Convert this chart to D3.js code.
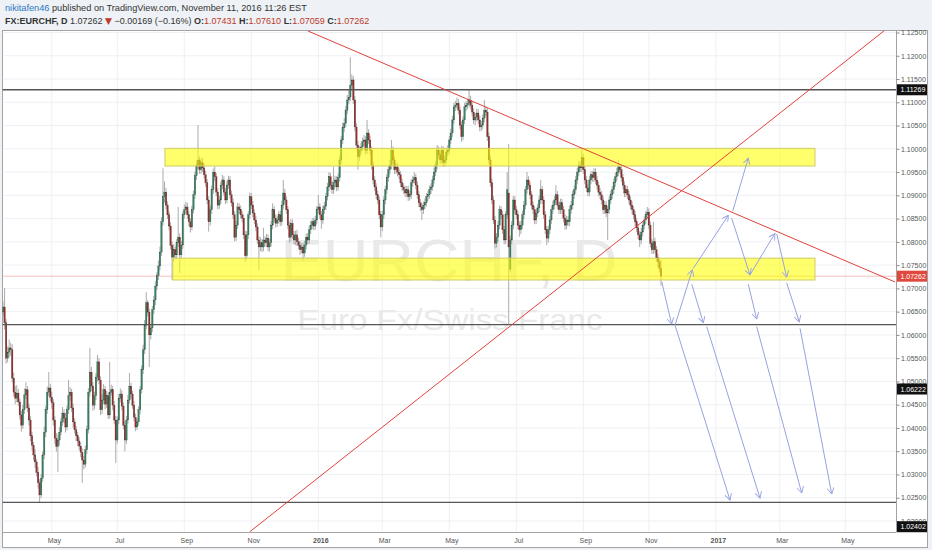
<!DOCTYPE html>
<html>
<head>
<meta charset="utf-8">
<script src="https://d3js.org/d3.v7.min.js"></script>
<style>
  body { margin: 0; background: #eef1f5; }
  svg { display: block; font-family: "Liberation Sans", Arial, sans-serif; }
</style>
</head>
<body>
<svg id="chart" width="932" height="550"></svg>
<script>
// ---- data: EURCHF daily bars, first bar 2015-03-17, last bar 2016-11-11 ----
const firstBar = "2015-03-17";

const opens = [
  1.0655,1.0649,1.0660,1.0626,1.0550,1.0563,1.0572,1.0568,1.0507,1.0477,
  1.0464,1.0475,1.0456,1.0428,1.0406,1.0439,1.0471,1.0482,1.0443,1.0417,
  1.0383,1.0363,1.0342,1.0327,1.0305,1.0282,1.0256,1.0292,1.0342,1.0391,
  1.0439,1.0477,1.0486,1.0466,1.0454,1.0417,1.0378,1.0360,1.0374,1.0391,
  1.0413,1.0432,1.0421,1.0402,1.0439,1.0469,1.0477,1.0443,1.0413,1.0396,
  1.0383,1.0372,1.0361,1.0348,1.0331,1.0322,1.0353,1.0396,1.0477,1.0520,
  1.0490,1.0449,1.0469,1.0509,1.0542,1.0503,1.0439,1.0460,1.0482,1.0451,
  1.0469,1.0428,1.0477,1.0482,1.0449,1.0417,1.0374,1.0417,1.0464,1.0473,
  1.0447,1.0406,1.0374,1.0417,1.0460,1.0490,1.0473,1.0449,1.0423,1.0402,
  1.0413,1.0439,1.0482,1.0525,1.0568,1.0621,1.0669,1.0649,1.0600,1.0615,
  1.0654,1.0675,1.0705,1.0727,1.0748,1.0778,1.0843,1.0897,1.0907,1.0879,
  1.0858,1.0834,1.0793,1.0767,1.0783,1.0772,1.0798,1.0810,1.0772,1.0793,
  1.0858,1.0869,1.0875,1.0858,1.0843,1.0832,1.0869,1.0901,1.0942,1.0965,
  1.0976,1.0955,1.0970,1.0959,1.0944,1.0927,1.0890,1.0843,1.0869,1.0912,
  1.0950,1.0940,1.0907,1.0879,1.0890,1.0922,1.0933,1.0907,1.0890,1.0922,
  1.0933,1.0901,1.0884,1.0858,1.0810,1.0836,1.0875,1.0869,1.0858,1.0851,
  1.0815,1.0770,1.0815,1.0858,1.0897,1.0879,1.0862,1.0847,1.0832,1.0804,
  1.0789,1.0798,1.0789,1.0804,1.0798,1.0808,1.0789,1.0798,1.0836,1.0869,
  1.0851,1.0840,1.0847,1.0858,1.0843,1.0879,1.0905,1.0890,1.0869,1.0836,
  1.0810,1.0840,1.0815,1.0804,1.0815,1.0800,1.0793,1.0783,1.0789,1.0776,
  1.0793,1.0810,1.0804,1.0826,1.0836,1.0843,1.0834,1.0847,1.0869,1.0875,
  1.0858,1.0847,1.0869,1.0877,1.0897,1.0918,1.0940,1.0922,1.0912,1.0927,
  1.0933,1.0918,1.0938,1.0976,1.1019,1.1045,1.1055,1.1083,1.1105,1.1111,
  1.1137,1.1148,1.1105,1.1047,1.1008,1.0983,1.0997,1.1004,1.1015,1.1019,
  1.0997,1.1034,1.1019,1.0997,1.0965,1.0933,1.0918,1.0901,1.0890,1.0858,
  1.0832,1.0858,1.0890,1.0912,1.0938,1.0955,1.0965,1.0997,1.0976,1.0955,
  1.0961,1.0950,1.0944,1.0927,1.0918,1.0912,1.0905,1.0912,1.0897,1.0901,
  1.0927,1.0933,1.0938,1.0922,1.0901,1.0884,1.0875,1.0869,1.0879,1.0884,
  1.0897,1.0901,1.0912,1.0918,1.0933,1.0950,1.0965,1.0997,1.0987,1.0976,
  1.0997,1.0970,1.0976,1.0993,1.0997,1.1019,1.1034,1.1062,1.1090,1.1094,
  1.1098,1.1083,1.1051,1.1026,1.1062,1.1090,1.1094,1.1098,1.1105,1.1094,
  1.1079,1.1062,1.1068,1.1077,1.1062,1.1047,1.1051,1.1066,1.1083,1.1079,
  1.1026,1.0976,1.0927,1.0890,1.0847,1.0797,1.0810,1.0836,1.0869,1.0858,
  1.0826,1.0804,1.0858,1.0905,1.0741,1.0804,1.0836,1.0890,1.0869,1.0858,
  1.0836,1.0826,1.0836,1.0858,1.0879,1.0912,1.0933,1.0922,1.0901,1.0879,
  1.0869,1.0847,1.0862,1.0873,1.0890,1.0912,1.0890,1.0858,1.0826,1.0808,
  1.0826,1.0847,1.0869,1.0879,1.0890,1.0901,1.0879,1.0869,1.0884,1.0869,
  1.0851,1.0836,1.0847,1.0843,1.0869,1.0879,1.0901,1.0912,1.0933,1.0950,
  1.0965,1.0959,1.0981,1.0955,1.0933,1.0916,1.0907,1.0933,1.0944,1.0938,
  1.0950,1.0933,1.0922,1.0907,1.0901,1.0890,1.0869,1.0879,1.0862,1.0869,
  1.0890,1.0901,1.0912,1.0927,1.0940,1.0950,1.0961,1.0955,1.0938,1.0922,
  1.0905,1.0912,1.0901,1.0890,1.0879,1.0869,1.0858,1.0843,1.0830,1.0815,
  1.0804,1.0821,1.0836,1.0847,1.0858,1.0864,1.0836,1.0797,1.0783,1.0800,
  1.0783,1.0766,1.0757,1.07431
];

const highs = [
  1.0668,1.0672,1.0701,1.0634,1.0575,1.0590,1.0583,1.0580,1.0519,1.0490,
  1.0492,1.0484,1.0463,1.0437,1.0450,1.0485,1.0498,1.0490,1.0452,1.0425,
  1.0392,1.0370,1.0355,1.0333,1.0316,1.0290,1.0301,1.0350,1.0403,1.0448,
  1.0489,1.0520,1.0495,1.0478,1.0462,1.0425,1.0389,1.0386,1.0402,1.0422,
  1.0445,1.0440,1.0433,1.0448,1.0503,1.0488,1.0484,1.0452,1.0421,1.0404,
  1.0391,1.0380,1.0370,1.0356,1.0340,1.0362,1.0405,1.0486,1.0572,1.0531,
  1.0498,1.0478,1.0518,1.0557,1.0550,1.0511,1.0472,1.0494,1.0490,1.0480,
  1.0476,1.0542,1.0493,1.0490,1.0458,1.0426,1.0425,1.0473,1.0485,1.0481,
  1.0455,1.0414,1.0426,1.0471,1.0518,1.0497,1.0480,1.0458,1.0431,1.0420,
  1.0447,1.0490,1.0535,1.0579,1.0632,1.0692,1.0675,1.0657,1.0624,1.0662,
  1.0684,1.0716,1.0735,1.0760,1.0790,1.0853,1.0958,1.0930,1.0916,1.0887,
  1.0866,1.0842,1.0801,1.0795,1.0790,1.0806,1.0875,1.0818,1.0802,1.0866,
  1.0880,1.0886,1.0884,1.0866,1.0851,1.0878,1.0910,1.0951,1.0974,1.1051,
  1.0984,1.0979,1.0981,1.0968,1.0953,1.0935,1.0898,1.0878,1.0921,1.0958,
  1.0962,1.0948,1.0915,1.0899,1.0930,1.0944,1.0941,1.0916,1.0931,1.0942,
  1.0941,1.0910,1.0893,1.0866,1.0845,1.0884,1.0883,1.0878,1.0866,1.0859,
  1.0824,1.0823,1.0866,1.0906,1.0905,1.0888,1.0870,1.0855,1.0840,1.0812,
  1.0810,1.0806,1.0830,1.0812,1.0817,1.0816,1.0807,1.0845,1.0883,1.0877,
  1.0859,1.0855,1.0866,1.0867,1.0888,1.0933,1.0914,1.0898,1.0877,1.0844,
  1.0849,1.0848,1.0823,1.0824,1.0826,1.0809,1.0801,1.0797,1.0798,1.0802,
  1.0818,1.0819,1.0835,1.0845,1.0851,1.0852,1.0856,1.0877,1.0901,1.0883,
  1.0866,1.0878,1.0886,1.0905,1.0927,1.0950,1.0948,1.0931,1.0961,1.0942,
  1.0941,1.0947,1.0985,1.1028,1.1056,1.1066,1.1092,1.1116,1.1125,1.1197,
  1.1160,1.1156,1.1113,1.1055,1.1017,1.1006,1.1013,1.1024,1.1030,1.1027,
  1.1062,1.1042,1.1028,1.1005,1.0973,1.0941,1.0926,1.0910,1.0898,1.0866,
  1.0867,1.0898,1.0921,1.0946,1.0964,1.0976,1.1019,1.1005,1.0984,1.0970,
  1.0969,1.0958,1.0952,1.0936,1.0926,1.0921,1.0920,1.0921,1.0910,1.0935,
  1.0942,1.0950,1.0946,1.0930,1.0909,1.0892,1.0883,1.0887,1.0893,1.0905,
  1.0910,1.0921,1.0926,1.0942,1.0959,1.0974,1.1008,1.1005,1.0995,1.1006,
  1.1005,1.0985,1.1002,1.1008,1.1028,1.1043,1.1071,1.1099,1.1103,1.1110,
  1.1107,1.1091,1.1059,1.1070,1.1099,1.1103,1.1108,1.1127,1.1114,1.1102,
  1.1087,1.1076,1.1086,1.1085,1.1071,1.1060,1.1074,1.1105,1.1092,1.1088,
  1.1035,1.0985,1.0936,1.0899,1.0856,1.0819,1.0845,1.0878,1.0877,1.0867,
  1.0834,1.0866,1.0950,1.1010,1.0813,1.0845,1.0899,1.0898,1.0877,1.0866,
  1.0844,1.0845,1.0867,1.0888,1.0920,1.0950,1.0941,1.0930,1.0909,1.0887,
  1.0877,1.0870,1.0881,1.0899,1.0933,1.0920,1.0898,1.0866,1.0834,1.0835,
  1.0856,1.0878,1.0888,1.0899,1.0922,1.0909,1.0887,1.0893,1.0892,1.0877,
  1.0859,1.0856,1.0855,1.0878,1.0888,1.0910,1.0921,1.0942,1.0959,1.0974,
  1.0973,1.1002,1.0989,1.0963,1.0941,1.0924,1.0942,1.0953,1.0952,1.0958,
  1.0958,1.0941,1.0930,1.0916,1.0909,1.0898,1.0888,1.0887,1.0878,1.0898,
  1.0910,1.0920,1.0936,1.0949,1.0959,1.0976,1.0964,1.0963,1.0946,1.0930,
  1.0921,1.0920,1.0909,1.0898,1.0887,1.0877,1.0866,1.0851,1.0838,1.0823,
  1.0830,1.0845,1.0855,1.0866,1.0875,1.0872,1.0844,1.0806,1.0843,1.0809,
  1.0791,1.0774,1.0765,1.07610
];

const lows = [
  1.0638,1.0640,1.0612,1.0538,1.0541,1.0552,1.0555,1.0498,1.0468,1.0451,
  1.0455,1.0447,1.0418,1.0392,1.0398,1.0430,1.0462,1.0434,1.0405,1.0371,
  1.0352,1.0330,1.0314,1.0296,1.0270,1.0240,1.0249,1.0284,1.0333,1.0380,
  1.0430,1.0468,1.0457,1.0441,1.0405,1.0366,1.0349,1.0305,1.0362,1.0384,
  1.0404,1.0410,1.0390,1.0395,1.0430,1.0458,1.0434,1.0401,1.0388,1.0372,
  1.0361,1.0352,1.0337,1.0282,1.0311,1.0315,1.0344,1.0388,1.0468,1.0479,
  1.0437,1.0440,1.0460,1.0500,1.0494,1.0428,1.0430,1.0451,1.0440,1.0443,
  1.0419,1.0420,1.0470,1.0438,1.0408,1.0325,1.0366,1.0408,1.0455,1.0438,
  1.0397,1.0350,1.0366,1.0409,1.0452,1.0464,1.0441,1.0414,1.0393,1.0396,
  1.0405,1.0430,1.0474,1.0516,1.0559,1.0612,1.0640,1.0531,1.0590,1.0606,
  1.0645,1.0664,1.0696,1.0718,1.0739,1.0770,1.0835,1.0884,1.0870,1.0849,
  1.0825,1.0784,1.0718,1.0758,1.0763,1.0763,1.0789,1.0733,1.0764,1.0785,
  1.0850,1.0860,1.0849,1.0834,1.0820,1.0825,1.0861,1.0892,1.0933,1.0957,
  1.0946,1.0946,1.0950,1.0936,1.0918,1.0881,1.0822,1.0835,1.0860,1.0903,
  1.0931,1.0898,1.0870,1.0871,1.0882,1.0913,1.0899,1.0881,1.0883,1.0914,
  1.0893,1.0876,1.0849,1.0801,1.0802,1.0828,1.0860,1.0850,1.0842,1.0806,
  1.0757,1.0762,1.0806,1.0849,1.0870,1.0853,1.0838,1.0823,1.0795,1.0740,
  1.0780,1.0778,1.0780,1.0790,1.0789,1.0780,1.0779,1.0790,1.0827,1.0842,
  1.0831,1.0832,1.0839,1.0834,1.0835,1.0870,1.0881,1.0860,1.0827,1.0798,
  1.0801,1.0806,1.0795,1.0793,1.0791,1.0784,1.0772,1.0775,1.0761,1.0768,
  1.0784,1.0795,1.0796,1.0817,1.0827,1.0825,1.0826,1.0838,1.0860,1.0849,
  1.0828,1.0838,1.0860,1.0868,1.0889,1.0909,1.0913,1.0903,1.0903,1.0918,
  1.0909,1.0910,1.0929,1.0967,1.1010,1.1036,1.1046,1.1074,1.1096,1.1102,
  1.1128,1.1096,1.1038,1.0999,1.0955,1.0974,1.0988,1.0995,1.1006,1.0988,
  1.0989,1.1010,1.0988,1.0956,1.0924,1.0909,1.0892,1.0881,1.0849,1.0810,
  1.0823,1.0849,1.0881,1.0903,1.0929,1.0946,1.0956,1.0967,1.0946,1.0946,
  1.0941,1.0935,1.0918,1.0909,1.0903,1.0896,1.0896,1.0888,1.0889,1.0892,
  1.0918,1.0925,1.0913,1.0892,1.0875,1.0866,1.0847,1.0860,1.0871,1.0876,
  1.0888,1.0893,1.0903,1.0910,1.0925,1.0941,1.0956,1.0978,1.0967,1.0968,
  1.0961,1.0962,1.0967,1.0984,1.0988,1.1010,1.1025,1.1053,1.1081,1.1085,
  1.1074,1.1042,1.1015,1.1018,1.1053,1.1081,1.1085,1.1089,1.1085,1.1070,
  1.1053,1.1051,1.1059,1.1053,1.1038,1.1038,1.1042,1.1057,1.1070,1.1017,
  1.0967,1.0918,1.0881,1.0838,1.0786,1.0788,1.0801,1.0827,1.0849,1.0817,
  1.0795,1.0795,1.0849,1.0622,1.0735,1.0795,1.0827,1.0860,1.0849,1.0827,
  1.0811,1.0817,1.0827,1.0849,1.0870,1.0903,1.0913,1.0892,1.0870,1.0860,
  1.0838,1.0838,1.0853,1.0864,1.0881,1.0881,1.0849,1.0817,1.0793,1.0799,
  1.0817,1.0838,1.0860,1.0870,1.0881,1.0870,1.0860,1.0860,1.0860,1.0842,
  1.0826,1.0827,1.0834,1.0834,1.0860,1.0870,1.0892,1.0903,1.0924,1.0941,
  1.0950,1.0950,1.0946,1.0924,1.0907,1.0898,1.0898,1.0924,1.0929,1.0929,
  1.0924,1.0913,1.0898,1.0892,1.0881,1.0860,1.0860,1.0853,1.0804,1.0860,
  1.0881,1.0892,1.0903,1.0918,1.0931,1.0941,1.0946,1.0929,1.0913,1.0896,
  1.0896,1.0892,1.0881,1.0870,1.0860,1.0849,1.0834,1.0821,1.0806,1.0789,
  1.0795,1.0812,1.0827,1.0838,1.0849,1.0827,1.0788,1.0774,1.0774,1.0775,
  1.0757,1.0745,1.0734,1.07059
];

const closes = [
  1.0649,1.0660,1.0626,1.0550,1.0563,1.0572,1.0568,1.0507,1.0477,1.0464,
  1.0475,1.0456,1.0428,1.0406,1.0439,1.0471,1.0482,1.0443,1.0417,1.0383,
  1.0363,1.0342,1.0327,1.0305,1.0282,1.0256,1.0292,1.0342,1.0391,1.0439,
  1.0477,1.0486,1.0466,1.0454,1.0417,1.0378,1.0360,1.0374,1.0391,1.0413,
  1.0432,1.0421,1.0402,1.0439,1.0469,1.0477,1.0443,1.0413,1.0396,1.0383,
  1.0372,1.0361,1.0348,1.0331,1.0322,1.0353,1.0396,1.0477,1.0520,1.0490,
  1.0449,1.0469,1.0509,1.0542,1.0503,1.0439,1.0460,1.0482,1.0451,1.0469,
  1.0428,1.0477,1.0482,1.0449,1.0417,1.0374,1.0417,1.0464,1.0473,1.0447,
  1.0406,1.0374,1.0417,1.0460,1.0490,1.0473,1.0449,1.0423,1.0402,1.0413,
  1.0439,1.0482,1.0525,1.0568,1.0621,1.0669,1.0649,1.0600,1.0615,1.0654,
  1.0675,1.0705,1.0727,1.0748,1.0778,1.0843,1.0897,1.0907,1.0879,1.0858,
  1.0834,1.0793,1.0767,1.0783,1.0772,1.0798,1.0810,1.0772,1.0793,1.0858,
  1.0869,1.0875,1.0858,1.0843,1.0832,1.0869,1.0901,1.0942,1.0965,1.0976,
  1.0955,1.0970,1.0959,1.0944,1.0927,1.0890,1.0843,1.0869,1.0912,1.0950,
  1.0940,1.0907,1.0879,1.0890,1.0922,1.0933,1.0907,1.0890,1.0922,1.0933,
  1.0901,1.0884,1.0858,1.0810,1.0836,1.0875,1.0869,1.0858,1.0851,1.0815,
  1.0770,1.0815,1.0858,1.0897,1.0879,1.0862,1.0847,1.0832,1.0804,1.0789,
  1.0798,1.0789,1.0804,1.0798,1.0808,1.0789,1.0798,1.0836,1.0869,1.0851,
  1.0840,1.0847,1.0858,1.0843,1.0879,1.0905,1.0890,1.0869,1.0836,1.0810,
  1.0840,1.0815,1.0804,1.0815,1.0800,1.0793,1.0783,1.0789,1.0776,1.0793,
  1.0810,1.0804,1.0826,1.0836,1.0843,1.0834,1.0847,1.0869,1.0875,1.0858,
  1.0847,1.0869,1.0877,1.0897,1.0918,1.0940,1.0922,1.0912,1.0927,1.0933,
  1.0918,1.0938,1.0976,1.1019,1.1045,1.1055,1.1083,1.1105,1.1111,1.1137,
  1.1148,1.1105,1.1047,1.1008,1.0983,1.0997,1.1004,1.1015,1.1019,1.0997,
  1.1034,1.1019,1.0997,1.0965,1.0933,1.0918,1.0901,1.0890,1.0858,1.0832,
  1.0858,1.0890,1.0912,1.0938,1.0955,1.0965,1.0997,1.0976,1.0955,1.0961,
  1.0950,1.0944,1.0927,1.0918,1.0912,1.0905,1.0912,1.0897,1.0901,1.0927,
  1.0933,1.0938,1.0922,1.0901,1.0884,1.0875,1.0869,1.0879,1.0884,1.0897,
  1.0901,1.0912,1.0918,1.0933,1.0950,1.0965,1.0997,1.0987,1.0976,1.0997,
  1.0970,1.0976,1.0993,1.0997,1.1019,1.1034,1.1062,1.1090,1.1094,1.1098,
  1.1083,1.1051,1.1026,1.1062,1.1090,1.1094,1.1098,1.1105,1.1094,1.1079,
  1.1062,1.1068,1.1077,1.1062,1.1047,1.1051,1.1066,1.1083,1.1079,1.1026,
  1.0976,1.0927,1.0890,1.0847,1.0797,1.0810,1.0836,1.0869,1.0858,1.0826,
  1.0804,1.0858,1.0912,1.0789,1.0804,1.0836,1.0890,1.0869,1.0858,1.0836,
  1.0826,1.0836,1.0858,1.0879,1.0912,1.0933,1.0922,1.0901,1.0879,1.0869,
  1.0847,1.0862,1.0873,1.0890,1.0912,1.0890,1.0858,1.0826,1.0808,1.0826,
  1.0847,1.0869,1.0879,1.0890,1.0901,1.0879,1.0869,1.0884,1.0869,1.0851,
  1.0836,1.0847,1.0843,1.0869,1.0879,1.0901,1.0912,1.0933,1.0950,1.0965,
  1.0959,1.0981,1.0955,1.0933,1.0916,1.0907,1.0933,1.0944,1.0938,1.0950,
  1.0933,1.0922,1.0907,1.0901,1.0890,1.0869,1.0879,1.0862,1.0869,1.0890,
  1.0901,1.0912,1.0927,1.0940,1.0950,1.0961,1.0955,1.0938,1.0922,1.0905,
  1.0912,1.0901,1.0890,1.0879,1.0869,1.0858,1.0843,1.0830,1.0815,1.0804,
  1.0821,1.0836,1.0847,1.0858,1.0864,1.0836,1.0797,1.0783,1.0800,1.0783,
  1.0766,1.0757,1.0743,1.07262
];

// axis ticks
const priceTicks = [1.020,1.025,1.030,1.035,1.040,1.045,1.050,1.055,1.060,1.065,1.070,
                    1.075,1.080,1.085,1.090,1.095,1.100,1.105,1.110,1.115,1.120,1.125];
const monthDates = ["2015-05-01","2015-07-01","2015-09-01","2015-11-01","2016-01-01","2016-03-01",
                    "2016-05-01","2016-07-01","2016-09-01","2016-11-01","2017-01-01","2017-03-01","2017-05-01"];
const monthLabels = ["May","Jul","Sep","Nov","2016","Mar","May","Jul","Sep","Nov","2017","Mar","May"];

// drawings: horizontal levels, zones [bar1, bar2, top, bottom], trend lines and arrows [bar1, p1, bar2, p2]
const levels = [1.11269, 1.06222, 1.02402];
const zones = [[107.3, 534.1, 1.1001, 1.0963], [112.4, 534.1, 1.0765, 1.0718]];
const trendLines = [[201.2, 1.12532, 586.6, 1.07138], [163.1, 1.01771, 579.6, 1.12539]];
const arrows = [
  [433.5, 1.0714, 440.0, 1.0623], [442.2, 1.0621, 453.6, 1.0740], [454.2, 1.0743, 477.2, 1.0857],
  [480.1, 1.0866, 490.3, 1.0980], [453.2, 1.0709, 460.8, 1.0626], [479.4, 1.0851, 491.4, 1.0729],
  [491.4, 1.0729, 507.8, 1.0818], [509.0, 1.0817, 515.5, 1.0724], [490.3, 1.0709, 495.8, 1.0634],
  [515.5, 1.0712, 523.8, 1.0628], [442.2, 1.0621, 478.3, 1.0245], [463.0, 1.0618, 498.0, 1.0249],
  [495.8, 1.0618, 525.4, 1.0260], [524.3, 1.0614, 545.1, 1.0258]
];
// price tags on the right scale: [text, price where the tag sits, colour]
const tags = [["1.11269", 1.11269, "#111"], ["1.07262", 1.07262, "#e0483e"],
              ["1.06222", 1.04837, "#111"], ["1.02402", 1.01877, "#111"]];

const svg = d3.select("#chart");
const plotL = 2.5, plotR = 896, plotT = 30.5, plotB = 532;

const x = d3.scaleLinear().domain([0, 433]).range([1.54, 661]);
const y = d3.scaleLinear().domain([1.02, 1.125]).range([521, 32.5]);

// weekday count from the first bar -> bar index of a calendar date
function barOf(s) {
  const d1 = new Date(s + "T00:00:00Z");
  let n = 0;
  for (let d = new Date(firstBar + "T00:00:00Z"); d < d1; d.setUTCDate(d.getUTCDate() + 1)) {
    const wd = d.getUTCDay();
    if (wd !== 0 && wd !== 6) n++;
  }
  return n;
}
const monthBars = monthDates.map(barOf);

// frame
svg.append("rect").attr("x", 2.5).attr("y", 30.5).attr("width", 925).attr("height", 517)
  .attr("fill", "#fff").attr("stroke", "#a3a3a3");

svg.append("clipPath").attr("id", "clip").append("rect")
  .attr("x", plotL).attr("y", plotT).attr("width", plotR - plotL).attr("height", plotB - plotT);

const g = svg.append("g").attr("clip-path", "url(#clip)");

// grid
g.selectAll(".hg").data(priceTicks).enter().append("line")
  .attr("x1", plotL).attr("x2", plotR).attr("y1", d => y(d)).attr("y2", d => y(d))
  .attr("stroke", "#eef0f4").attr("stroke-width", 1);
g.selectAll(".vg").data(monthBars).enter().append("line")
  .attr("x1", d => x(d)).attr("x2", d => x(d)).attr("y1", plotT).attr("y2", plotB)
  .attr("stroke", "#eef0f4").attr("stroke-width", 1);

// watermark
g.append("text").attr("x", 449).attr("y", 281).attr("text-anchor", "middle")
  .attr("font-size", 60).attr("fill", "#e9e9e9").attr("textLength", 337)
  .attr("lengthAdjust", "spacingAndGlyphs").text("EURCHF, D");
g.append("text").attr("x", 450).attr("y", 330).attr("text-anchor", "middle")
  .attr("font-size", 30).attr("fill", "#e9e9e9").attr("textLength", 305)
  .attr("lengthAdjust", "spacingAndGlyphs").text("Euro Fx/Swiss Franc");

// last price line
g.append("line").attr("x1", plotL).attr("x2", plotR)
  .attr("y1", y(closes[closes.length - 1])).attr("y2", y(closes[closes.length - 1]))
  .attr("stroke", "#f3b0ab").attr("stroke-width", 0.8);

// candles
const n = d3.min([opens.length, highs.length, lows.length, closes.length]);
const bars = d3.range(n).map(i => {
  const o = opens[i], c = closes[i];
  return { i, o, c, h: Math.max(highs[i], o, c), l: Math.min(lows[i], o, c) };
});
const candle = g.append("g");
candle.selectAll("line").data(bars).enter().append("line")
  .attr("x1", d => x(d.i)).attr("x2", d => x(d.i))
  .attr("y1", d => y(d.h)).attr("y2", d => y(d.l))
  .attr("stroke", "#a2a2a2").attr("stroke-width", 0.9);
candle.selectAll("rect").data(bars).enter().append("rect")
  .attr("x", d => x(d.i) - 0.75).attr("width", 1.5)
  .attr("y", d => y(Math.max(d.o, d.c)))
  .attr("height", d => Math.max(0.8, Math.abs(y(d.o) - y(d.c))))
  .attr("fill", d => d.c >= d.o ? "#2f8660" : "#9c2a25")
  .attr("stroke", "#3b3b3b").attr("stroke-width", 0.25);

// horizontal levels
g.selectAll(".lvl").data(levels).enter().append("line")
  .attr("x1", plotL).attr("x2", plotR).attr("y1", d => y(d)).attr("y2", d => y(d))
  .attr("stroke", "#555").attr("stroke-width", 1.3);

// zones
g.selectAll(".zone").data(zones).enter().append("rect")
  .attr("x", d => x(d[0])).attr("width", d => x(d[1]) - x(d[0]))
  .attr("y", d => y(d[2])).attr("height", d => y(d[3]) - y(d[2]))
  .attr("fill", "rgba(255,255,0,0.58)").attr("stroke", "#cfcb6a").attr("stroke-width", 1);

// trend lines
g.selectAll(".tl").data(trendLines).enter().append("line")
  .attr("x1", d => x(d[0])).attr("y1", d => y(d[1])).attr("x2", d => x(d[2])).attr("y2", d => y(d[3]))
  .attr("stroke", "#e2423b").attr("stroke-width", 1);

// arrows
svg.append("defs").append("marker").attr("id", "head")
  .attr("viewBox", "0 0 10 10").attr("refX", 9).attr("refY", 5)
  .attr("markerWidth", 7).attr("markerHeight", 7).attr("markerUnits", "userSpaceOnUse")
  .attr("orient", "auto")
  .append("path").attr("d", "M0,0 L9,5 L0,10").attr("fill", "none")
  .attr("stroke", "#97a2df").attr("stroke-width", 1.3);
g.selectAll(".arr").data(arrows).enter().append("line")
  .attr("x1", d => x(d[0])).attr("y1", d => y(d[1])).attr("x2", d => x(d[2])).attr("y2", d => y(d[3]))
  .attr("stroke", "#97a2df").attr("stroke-width", 1).attr("marker-end", "url(#head)");

// separators
svg.append("line").attr("x1", plotR + 0.5).attr("x2", plotR + 0.5).attr("y1", 30.5).attr("y2", plotB)
  .attr("stroke", "#a3a3a3");
svg.append("line").attr("x1", 2.5).attr("x2", plotR + 0.5).attr("y1", plotB + 0.5).attr("y2", plotB + 0.5)
  .attr("stroke", "#a3a3a3");

// price axis
const yAxis = svg.append("g").attr("transform", `translate(${plotR + 0.5},0)`)
  .call(d3.axisRight(y).tickValues(priceTicks).tickFormat(d3.format(".5f")).tickSize(3).tickPadding(1.5));
yAxis.select(".domain").remove();
yAxis.selectAll("line").attr("stroke", "#888");
yAxis.selectAll("text").attr("font-size", 7).attr("fill", "#555")
  .attr("font-family", "'Liberation Sans', Arial, sans-serif");

// time axis
const xAxis = svg.append("g").attr("transform", `translate(0,${plotB})`)
  .call(d3.axisBottom(x).tickValues(monthBars).tickFormat((d, i) => monthLabels[i]).tickSize(0).tickPadding(6));
xAxis.select(".domain").remove();
xAxis.selectAll("text").attr("font-size", 7).attr("fill", "#555").attr("dx", 2)
  .attr("font-family", "'Liberation Sans', Arial, sans-serif")
  .attr("font-weight", (d, i) => /^\d/.test(monthLabels[i]) ? "bold" : "normal");

// price tags
const tag = svg.selectAll(".tag").data(tags).enter().append("g")
  .attr("transform", d => `translate(${plotR + 1},${y(d[1])})`);
tag.append("rect").attr("x", 0).attr("y", -5.5).attr("width", 30).attr("height", 11).attr("fill", d => d[2]);
tag.append("text").attr("x", 3.5).attr("y", 2.5).attr("font-size", 7).attr("fill", "#fff").text(d => d[0]);

// header
const red = "#c0392b";
const h1 = svg.append("text").attr("x", 5).attr("y", 10.5).attr("font-size", 9.2).attr("fill", "#333");
h1.append("tspan").attr("fill", "#2b78c2").text("nikitafen46");
h1.append("tspan").text(" published on TradingView.com, November 11, 2016 11:26 EST");

const h2 = svg.append("text").attr("x", 5).attr("y", 24).attr("font-size", 9).attr("fill", "#333");
h2.append("tspan").attr("font-weight", "bold").text("FX:EURCHF, D");
h2.append("tspan").text(" 1.07262 ");
h2.append("tspan").attr("fill", red).attr("font-family", "'DejaVu Sans', sans-serif").text("\u25BC");
h2.append("tspan").text(" \u22120.00169 (\u22120.16%) ");
[["O:", "1.07431"], ["H:", "1.07610"], ["L:", "1.07059"], ["C:", "1.07262"]].forEach(([k, v]) => {
  h2.append("tspan").attr("font-weight", "bold").text(k);
  h2.append("tspan").attr("fill", red).text(v + " ");
});
</script>
</body>
</html>
